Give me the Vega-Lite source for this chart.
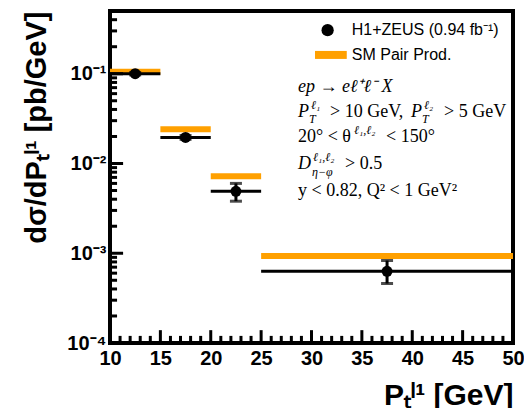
{
  "$schema": "https://vega.github.io/schema/vega-lite/v6.json",
  "width": 403,
  "height": 332,
  "autosize": "none",
  "padding": {"left": 110, "top": 11, "right": 11, "bottom": 65},
  "background": "white",
  "config": {
    "view": {"stroke": "black", "strokeWidth": 4},
    "axis": {"grid": false, "domain": false, "ticks": false, "labelFont": "Liberation Sans", "titleFont": "Liberation Sans", "labelColor": "black", "titleColor": "black"},
    "text": {"font": "Liberation Serif", "fontSize": 18, "align": "left", "baseline": "middle", "color": "black"}
  },
  "data": {"values": [
    {"lo": 10, "hi": 15, "pt": 12.5, "xsec": 0.1, "down": 0.097, "up": 0.103, "sm": 0.105},
    {"lo": 15, "hi": 20, "pt": 17.5, "xsec": 0.0195, "down": 0.0186, "up": 0.0205, "sm": 0.024},
    {"lo": 20, "hi": 25, "pt": 22.5, "xsec": 0.0049, "down": 0.0038, "up": 0.006, "sm": 0.0072},
    {"lo": 25, "hi": 50, "pt": 37.5, "xsec": 0.00063, "down": 0.00046, "up": 0.00083, "sm": 0.00093}
  ]},
  "layer": [
    {
      "mark": {"type": "rule", "color": "#ffa000", "strokeWidth": 6},
      "encoding": {
        "x": {"field": "lo", "type": "quantitative", "scale": {"domain": [10, 50], "nice": false, "zero": false},
          "axis": {"orient": "bottom", "values": [10, 15, 20, 25, 30, 35, 40, 45, 50], "ticks": false, "labelFontSize": 20, "labelFontWeight": "bold", "labelPadding": 5, "labelFlush": false, "labelOverlap": false,
            "title": "Pₜˡ¹ [GeV]", "titleFontSize": 30, "titleFontWeight": "bold", "titleAnchor": "end", "titlePadding": 12}},
        "x2": {"field": "hi"},
        "y": {"field": "sm", "type": "quantitative", "scale": {"type": "log", "domain": [0.0001, 0.5], "nice": false},
          "axis": {"orient": "left", "values": [0.0001, 0.001, 0.01, 0.1], "ticks": false, "labelFontSize": 20, "labelFontWeight": "bold", "labelPadding": 4, "labelFlush": false, "labelOverlap": false,
            "labelExpr": "datum.value < 0.0005 ? '10⁻⁴' : datum.value < 0.005 ? '10⁻³' : datum.value < 0.05 ? '10⁻²' : '10⁻¹'",
            "title": "dσ/dPₜˡ¹ [pb/GeV]", "titleFontSize": 29, "titleFontWeight": "bold", "titleAnchor": "end", "titlePadding": 15}}
      }
    },
    {
      "data": {"values": [{"v": 0.0001}, {"v": 0.001}, {"v": 0.01}, {"v": 0.1}]},
      "mark": {"type": "rule", "color": "black", "strokeWidth": 3},
      "encoding": {
        "y": {"field": "v", "type": "quantitative", "scale": {"type": "log", "domain": [0.0001, 0.5], "nice": false}, "axis": null},
        "x": {"datum": 10, "type": "quantitative", "scale": {"domain": [10, 50], "nice": false, "zero": false}, "axis": null},
        "x2": {"datum": 11.3}
      }
    },
    {
      "data": {"values": [{"v": 0.0002}, {"v": 0.0003}, {"v": 0.0004}, {"v": 0.0005}, {"v": 0.0006}, {"v": 0.0007}, {"v": 0.0008}, {"v": 0.0009}, {"v": 0.002}, {"v": 0.003}, {"v": 0.004}, {"v": 0.005}, {"v": 0.006}, {"v": 0.007}, {"v": 0.008}, {"v": 0.009}, {"v": 0.02}, {"v": 0.03}, {"v": 0.04}, {"v": 0.05}, {"v": 0.06}, {"v": 0.07}, {"v": 0.08}, {"v": 0.09}, {"v": 0.2}, {"v": 0.3}, {"v": 0.4}]},
      "mark": {"type": "rule", "color": "black", "strokeWidth": 3},
      "encoding": {
        "y": {"field": "v", "type": "quantitative", "scale": {"type": "log", "domain": [0.0001, 0.5], "nice": false}, "axis": null},
        "x": {"datum": 10, "type": "quantitative", "scale": {"domain": [10, 50], "nice": false, "zero": false}, "axis": null},
        "x2": {"datum": 10.7}
      }
    },
    {
      "data": {"values": [{"v": 10}, {"v": 15}, {"v": 20}, {"v": 25}, {"v": 30}, {"v": 35}, {"v": 40}, {"v": 45}, {"v": 50}]},
      "mark": {"type": "rule", "color": "black", "strokeWidth": 3},
      "encoding": {
        "x": {"field": "v", "type": "quantitative", "scale": {"domain": [10, 50], "nice": false, "zero": false}, "axis": null},
        "y": {"datum": 0.0001, "type": "quantitative", "scale": {"type": "log", "domain": [0.0001, 0.5], "nice": false}, "axis": null},
        "y2": {"datum": 0.000139}
      }
    },
    {
      "data": {"values": [{"v": 11}, {"v": 12}, {"v": 13}, {"v": 14}, {"v": 16}, {"v": 17}, {"v": 18}, {"v": 19}, {"v": 21}, {"v": 22}, {"v": 23}, {"v": 24}, {"v": 26}, {"v": 27}, {"v": 28}, {"v": 29}, {"v": 31}, {"v": 32}, {"v": 33}, {"v": 34}, {"v": 36}, {"v": 37}, {"v": 38}, {"v": 39}, {"v": 41}, {"v": 42}, {"v": 43}, {"v": 44}, {"v": 46}, {"v": 47}, {"v": 48}, {"v": 49}]},
      "mark": {"type": "rule", "color": "black", "strokeWidth": 3},
      "encoding": {
        "x": {"field": "v", "type": "quantitative", "scale": {"domain": [10, 50], "nice": false, "zero": false}, "axis": null},
        "y": {"datum": 0.0001, "type": "quantitative", "scale": {"type": "log", "domain": [0.0001, 0.5], "nice": false}, "axis": null},
        "y2": {"datum": 0.00012}
      }
    },
    {
      "mark": {"type": "rule", "color": "black", "strokeWidth": 3},
      "encoding": {
        "x": {"field": "lo", "type": "quantitative", "scale": {"domain": [10, 50], "nice": false, "zero": false}, "axis": null},
        "x2": {"field": "hi"},
        "y": {"field": "xsec", "type": "quantitative", "scale": {"type": "log", "domain": [0.0001, 0.5], "nice": false}, "axis": null}
      }
    },
    {
      "mark": {"type": "rule", "color": "black", "strokeWidth": 3},
      "encoding": {
        "x": {"field": "pt", "type": "quantitative", "scale": {"domain": [10, 50], "nice": false, "zero": false}, "axis": null},
        "y": {"field": "down", "type": "quantitative", "scale": {"type": "log", "domain": [0.0001, 0.5], "nice": false}, "axis": null},
        "y2": {"field": "up"}
      }
    },
    {
      "transform": [{"fold": ["down", "up"], "as": ["end", "val"]}],
      "mark": {"type": "tick", "color": "black", "orient": "horizontal", "size": 12, "thickness": 3},
      "encoding": {
        "x": {"field": "pt", "type": "quantitative", "scale": {"domain": [10, 50], "nice": false, "zero": false}, "axis": null},
        "y": {"field": "val", "type": "quantitative", "scale": {"type": "log", "domain": [0.0001, 0.5], "nice": false}, "axis": null}
      }
    },
    {
      "mark": {"type": "point", "filled": true, "color": "black", "size": 120, "opacity": 1},
      "encoding": {
        "x": {"field": "pt", "type": "quantitative", "scale": {"domain": [10, 50], "nice": false, "zero": false}, "axis": null},
        "y": {"field": "xsec", "type": "quantitative", "scale": {"type": "log", "domain": [0.0001, 0.5], "nice": false}, "axis": null}
      }
    },
    {
      "data": {"values": [{}]},
      "mark": {"type": "point", "filled": true, "color": "black", "size": 150, "opacity": 1},
      "encoding": {
        "x": {"datum": 31.6, "type": "quantitative", "scale": {"domain": [10, 50], "nice": false, "zero": false}, "axis": null},
        "y": {"datum": 0.306, "type": "quantitative", "scale": {"type": "log", "domain": [0.0001, 0.5], "nice": false}, "axis": null}
      }
    },
    {
      "data": {"values": [{}]},
      "mark": {"type": "rule", "color": "#ffa000", "strokeWidth": 8},
      "encoding": {
        "x": {"datum": 30.35, "type": "quantitative", "scale": {"domain": [10, 50], "nice": false, "zero": false}, "axis": null},
        "x2": {"datum": 33.5},
        "y": {"datum": 0.162, "type": "quantitative", "scale": {"type": "log", "domain": [0.0001, 0.5], "nice": false}, "axis": null}
      }
    },
    {
      "data": {"values": [{}]},
      "mark": {"type": "text", "text": "H1+ZEUS (0.94 fb⁻¹)", "font": "Liberation Sans", "fontSize": 16},
      "encoding": {
        "x": {"datum": 34.0, "type": "quantitative", "scale": {"domain": [10, 50], "nice": false, "zero": false}, "axis": null},
        "y": {"datum": 0.306, "type": "quantitative", "scale": {"type": "log", "domain": [0.0001, 0.5], "nice": false}, "axis": null}
      }
    },
    {
      "data": {"values": [{}]},
      "mark": {"type": "text", "text": "SM Pair Prod.", "font": "Liberation Sans", "fontSize": 16},
      "encoding": {
        "x": {"datum": 34.0, "type": "quantitative", "scale": {"domain": [10, 50], "nice": false, "zero": false}, "axis": null},
        "y": {"datum": 0.162, "type": "quantitative", "scale": {"type": "log", "domain": [0.0001, 0.5], "nice": false}, "axis": null}
      }
    },
    {
      "data": {"values": [{}]},
      "mark": {"type": "text", "text": "ep → eℓ⁺ℓ⁻ X", "fontStyle": "italic"},
      "encoding": {
        "x": {"datum": 28.66, "type": "quantitative", "scale": {"domain": [10, 50], "nice": false, "zero": false}, "axis": null},
        "y": {"datum": 0.0718, "type": "quantitative", "scale": {"type": "log", "domain": [0.0001, 0.5], "nice": false}, "axis": null}
      }
    },
    {
      "data": {"values": [{}]},
      "mark": {"type": "text", "text": "P", "fontStyle": "italic"},
      "encoding": {
        "x": {"datum": 28.66, "type": "quantitative", "scale": {"domain": [10, 50], "nice": false, "zero": false}, "axis": null},
        "y": {"datum": 0.0371, "type": "quantitative", "scale": {"type": "log", "domain": [0.0001, 0.5], "nice": false}, "axis": null}
      }
    },
    {
      "data": {"values": [{}]},
      "mark": {"type": "text", "text": "ℓ₁", "fontStyle": "italic", "fontSize": 12, "dx": 13, "dy": -7},
      "encoding": {
        "x": {"datum": 28.66, "type": "quantitative", "scale": {"domain": [10, 50], "nice": false, "zero": false}, "axis": null},
        "y": {"datum": 0.0371, "type": "quantitative", "scale": {"type": "log", "domain": [0.0001, 0.5], "nice": false}, "axis": null}
      }
    },
    {
      "data": {"values": [{}]},
      "mark": {"type": "text", "text": "T", "fontStyle": "italic", "fontSize": 12, "dx": 11, "dy": 7},
      "encoding": {
        "x": {"datum": 28.66, "type": "quantitative", "scale": {"domain": [10, 50], "nice": false, "zero": false}, "axis": null},
        "y": {"datum": 0.0371, "type": "quantitative", "scale": {"type": "log", "domain": [0.0001, 0.5], "nice": false}, "axis": null}
      }
    },
    {
      "data": {"values": [{}]},
      "mark": {"type": "text", "text": "> 10 GeV,", "dx": 32},
      "encoding": {
        "x": {"datum": 28.66, "type": "quantitative", "scale": {"domain": [10, 50], "nice": false, "zero": false}, "axis": null},
        "y": {"datum": 0.0371, "type": "quantitative", "scale": {"type": "log", "domain": [0.0001, 0.5], "nice": false}, "axis": null}
      }
    },
    {
      "data": {"values": [{}]},
      "mark": {"type": "text", "text": "P", "fontStyle": "italic", "dx": 113},
      "encoding": {
        "x": {"datum": 28.66, "type": "quantitative", "scale": {"domain": [10, 50], "nice": false, "zero": false}, "axis": null},
        "y": {"datum": 0.0371, "type": "quantitative", "scale": {"type": "log", "domain": [0.0001, 0.5], "nice": false}, "axis": null}
      }
    },
    {
      "data": {"values": [{}]},
      "mark": {"type": "text", "text": "ℓ₂", "fontStyle": "italic", "fontSize": 12, "dx": 126, "dy": -7},
      "encoding": {
        "x": {"datum": 28.66, "type": "quantitative", "scale": {"domain": [10, 50], "nice": false, "zero": false}, "axis": null},
        "y": {"datum": 0.0371, "type": "quantitative", "scale": {"type": "log", "domain": [0.0001, 0.5], "nice": false}, "axis": null}
      }
    },
    {
      "data": {"values": [{}]},
      "mark": {"type": "text", "text": "T", "fontStyle": "italic", "fontSize": 12, "dx": 124, "dy": 7},
      "encoding": {
        "x": {"datum": 28.66, "type": "quantitative", "scale": {"domain": [10, 50], "nice": false, "zero": false}, "axis": null},
        "y": {"datum": 0.0371, "type": "quantitative", "scale": {"type": "log", "domain": [0.0001, 0.5], "nice": false}, "axis": null}
      }
    },
    {
      "data": {"values": [{}]},
      "mark": {"type": "text", "text": "> 5 GeV", "dx": 146},
      "encoding": {
        "x": {"datum": 28.66, "type": "quantitative", "scale": {"domain": [10, 50], "nice": false, "zero": false}, "axis": null},
        "y": {"datum": 0.0371, "type": "quantitative", "scale": {"type": "log", "domain": [0.0001, 0.5], "nice": false}, "axis": null}
      }
    },
    {
      "data": {"values": [{}]},
      "mark": {"type": "text", "text": "20° < θ"},
      "encoding": {
        "x": {"datum": 28.66, "type": "quantitative", "scale": {"domain": [10, 50], "nice": false, "zero": false}, "axis": null},
        "y": {"datum": 0.0196, "type": "quantitative", "scale": {"type": "log", "domain": [0.0001, 0.5], "nice": false}, "axis": null}
      }
    },
    {
      "data": {"values": [{}]},
      "mark": {"type": "text", "text": "ℓ₁,ℓ₂", "fontStyle": "italic", "fontSize": 12, "dx": 56, "dy": -7},
      "encoding": {
        "x": {"datum": 28.66, "type": "quantitative", "scale": {"domain": [10, 50], "nice": false, "zero": false}, "axis": null},
        "y": {"datum": 0.0196, "type": "quantitative", "scale": {"type": "log", "domain": [0.0001, 0.5], "nice": false}, "axis": null}
      }
    },
    {
      "data": {"values": [{}]},
      "mark": {"type": "text", "text": "< 150°", "dx": 88},
      "encoding": {
        "x": {"datum": 28.66, "type": "quantitative", "scale": {"domain": [10, 50], "nice": false, "zero": false}, "axis": null},
        "y": {"datum": 0.0196, "type": "quantitative", "scale": {"type": "log", "domain": [0.0001, 0.5], "nice": false}, "axis": null}
      }
    },
    {
      "data": {"values": [{}]},
      "mark": {"type": "text", "text": "D", "fontStyle": "italic"},
      "encoding": {
        "x": {"datum": 28.66, "type": "quantitative", "scale": {"domain": [10, 50], "nice": false, "zero": false}, "axis": null},
        "y": {"datum": 0.00987, "type": "quantitative", "scale": {"type": "log", "domain": [0.0001, 0.5], "nice": false}, "axis": null}
      }
    },
    {
      "data": {"values": [{}]},
      "mark": {"type": "text", "text": "ℓ₁,ℓ₂", "fontStyle": "italic", "fontSize": 12, "dx": 15, "dy": -7},
      "encoding": {
        "x": {"datum": 28.66, "type": "quantitative", "scale": {"domain": [10, 50], "nice": false, "zero": false}, "axis": null},
        "y": {"datum": 0.00987, "type": "quantitative", "scale": {"type": "log", "domain": [0.0001, 0.5], "nice": false}, "axis": null}
      }
    },
    {
      "data": {"values": [{}]},
      "mark": {"type": "text", "text": "η−φ", "fontStyle": "italic", "fontSize": 12, "dx": 14, "dy": 8},
      "encoding": {
        "x": {"datum": 28.66, "type": "quantitative", "scale": {"domain": [10, 50], "nice": false, "zero": false}, "axis": null},
        "y": {"datum": 0.00987, "type": "quantitative", "scale": {"type": "log", "domain": [0.0001, 0.5], "nice": false}, "axis": null}
      }
    },
    {
      "data": {"values": [{}]},
      "mark": {"type": "text", "text": "> 0.5", "dx": 47},
      "encoding": {
        "x": {"datum": 28.66, "type": "quantitative", "scale": {"domain": [10, 50], "nice": false, "zero": false}, "axis": null},
        "y": {"datum": 0.00987, "type": "quantitative", "scale": {"type": "log", "domain": [0.0001, 0.5], "nice": false}, "axis": null}
      }
    },
    {
      "data": {"values": [{}]},
      "mark": {"type": "text", "text": "y < 0.82, Q² < 1 GeV²"},
      "encoding": {
        "x": {"datum": 28.66, "type": "quantitative", "scale": {"domain": [10, 50], "nice": false, "zero": false}, "axis": null},
        "y": {"datum": 0.00497, "type": "quantitative", "scale": {"type": "log", "domain": [0.0001, 0.5], "nice": false}, "axis": null}
      }
    }
  ],
  "resolve": {"axis": {"x": "independent", "y": "independent"}}
}
